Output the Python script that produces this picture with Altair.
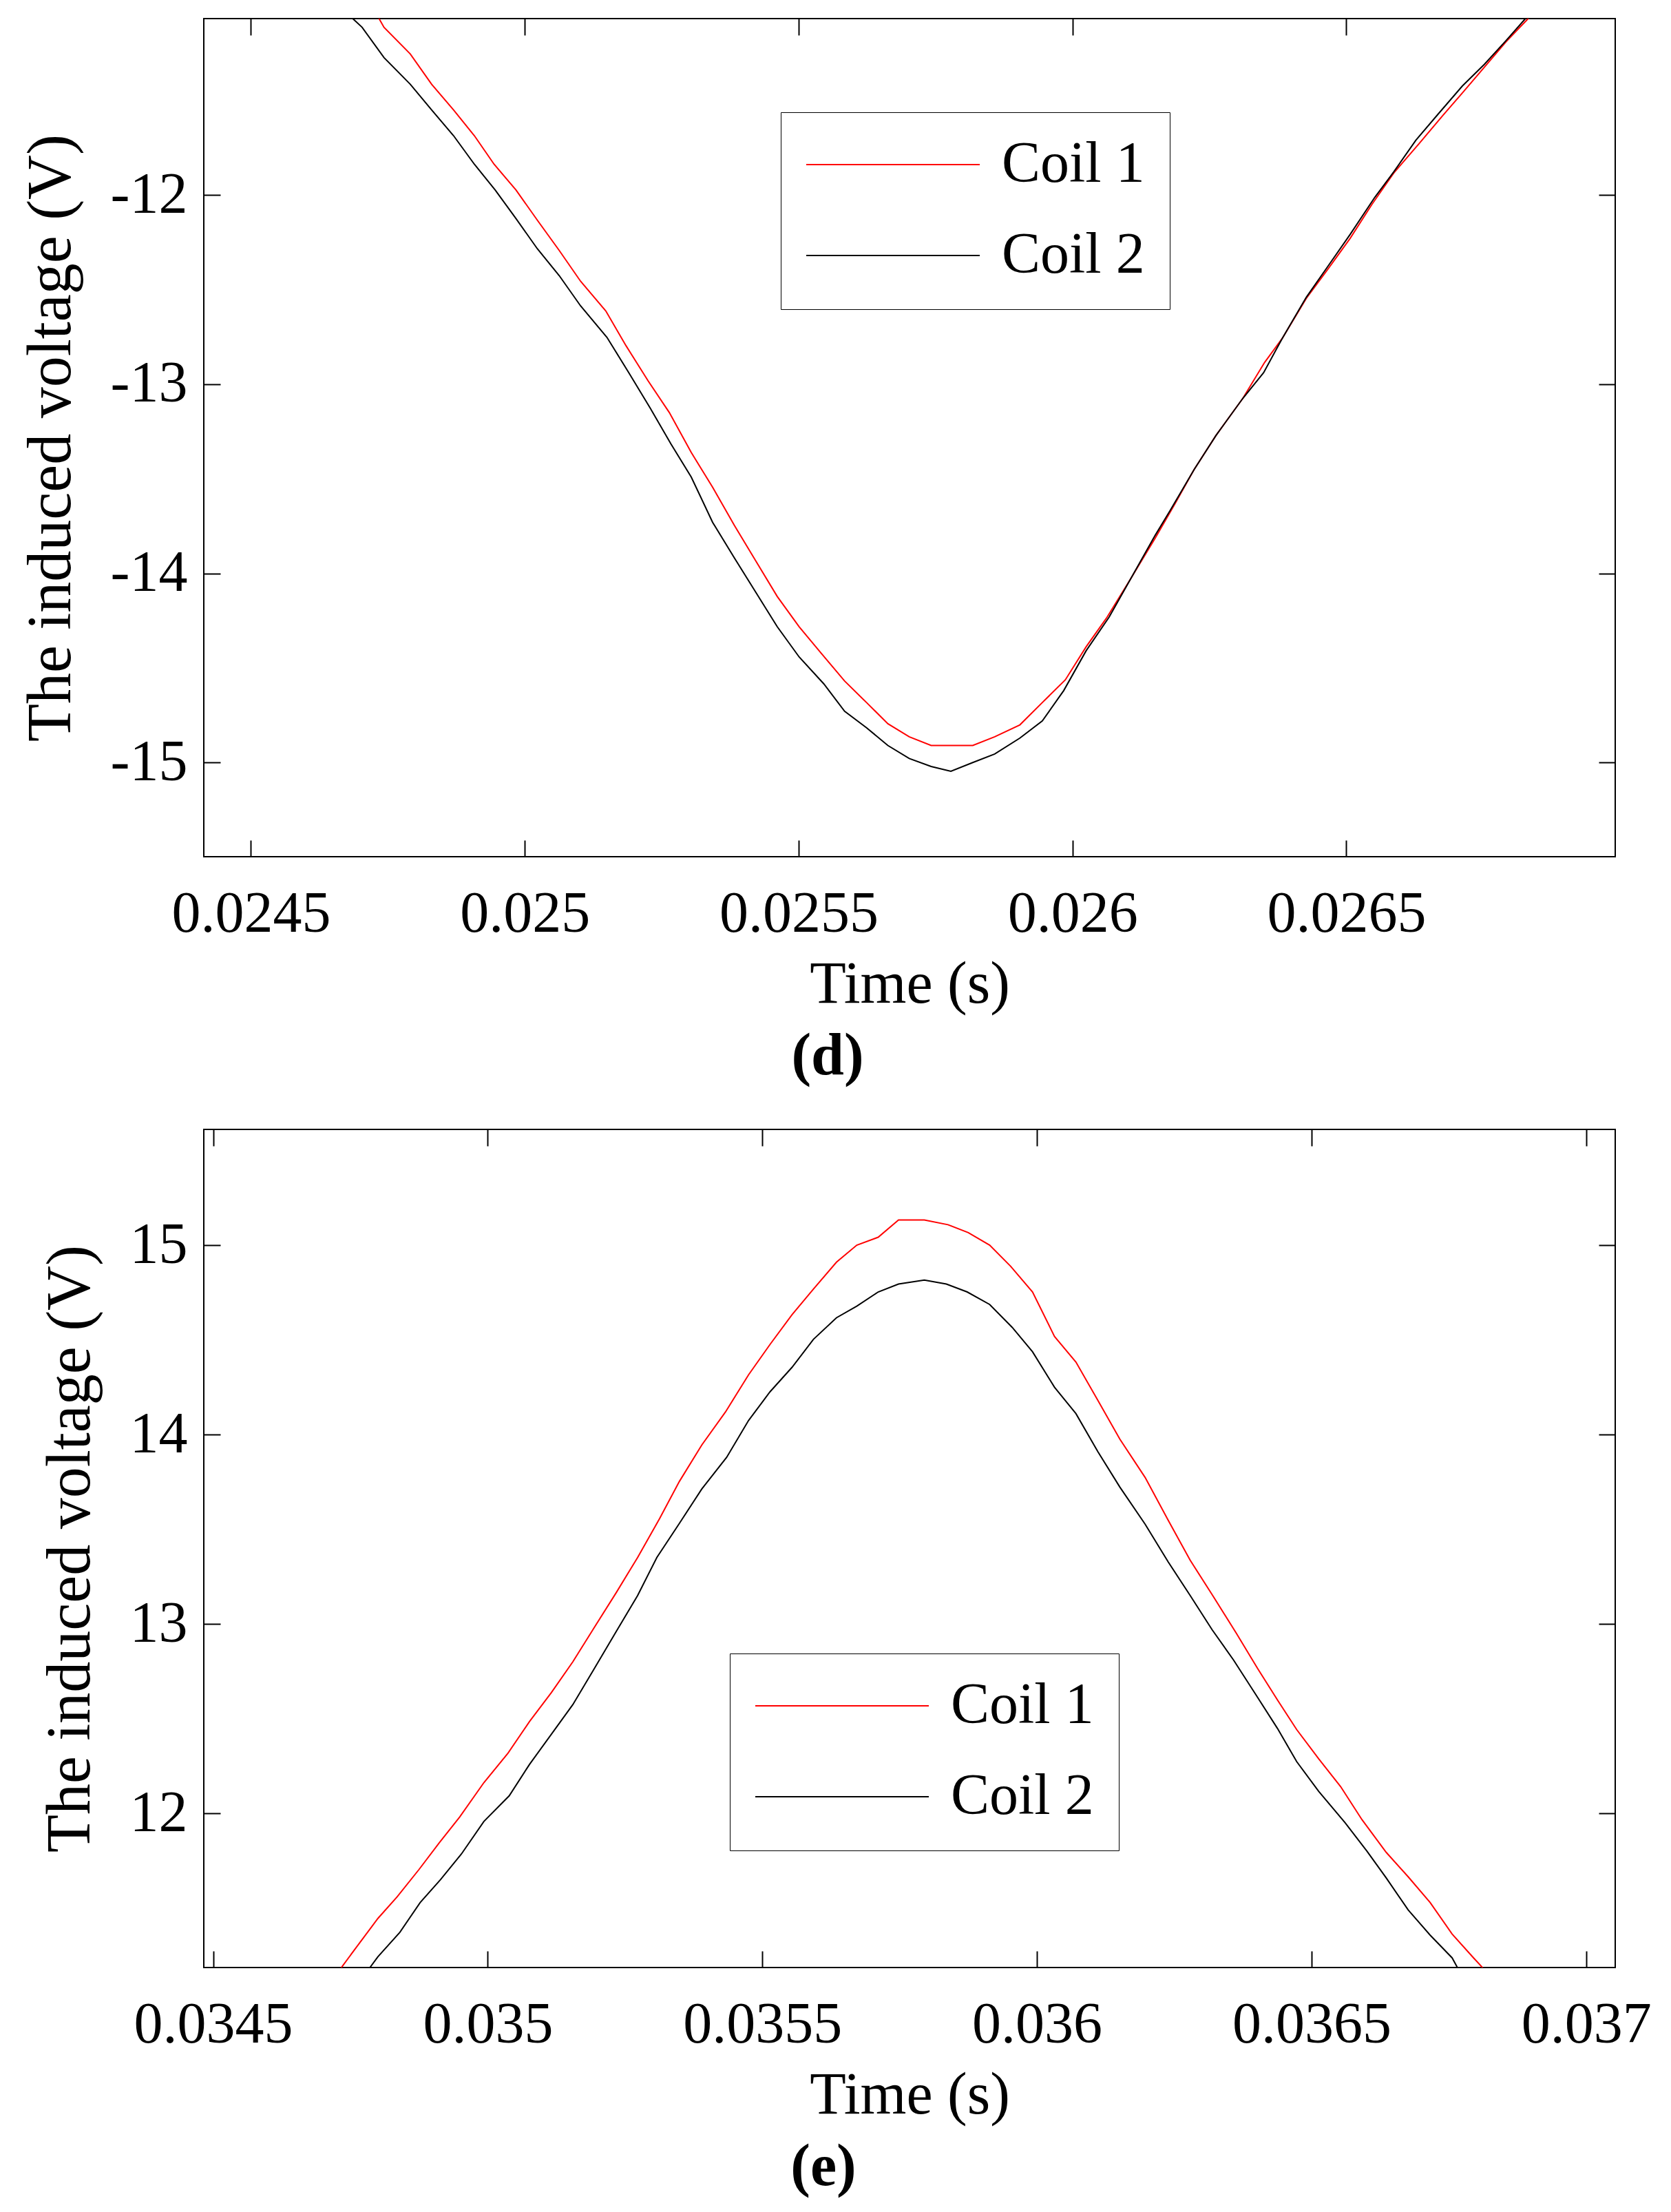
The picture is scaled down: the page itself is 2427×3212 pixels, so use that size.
import altair as alt
import pandas as pd

FONT = "Liberation Serif"

# ---------------- Panel (d) ----------------
d_t_coil1 = [0.024721, 0.024734, 0.024743, 0.024791, 0.024830, 0.024870, 0.024908, 0.024944,
             0.024984, 0.025023, 0.025063, 0.025102, 0.025148, 0.025185, 0.025225, 0.025264,
             0.025304, 0.025343, 0.025383, 0.025422, 0.025461, 0.025501, 0.025540, 0.025584,
             0.025624, 0.025663, 0.025702, 0.025742, 0.025818, 0.025858, 0.025904, 0.025945,
             0.025987, 0.026025, 0.026062, 0.026107, 0.026151, 0.026187, 0.026222, 0.026262,
             0.026311, 0.026351, 0.026383, 0.026427, 0.026467, 0.026507, 0.026547, 0.026587,
             0.026632, 0.026676, 0.026712, 0.026752, 0.026792, 0.026832, 0.026872]
d_v_coil1 = [-10.992, -11.067, -11.113, -11.254, -11.414, -11.550, -11.686, -11.837,
             -11.973, -12.133, -12.293, -12.456, -12.613, -12.797, -12.981, -13.150,
             -13.361, -13.545, -13.748, -13.935, -14.122, -14.282, -14.418, -14.569,
             -14.683, -14.795, -14.864, -14.910, -14.910, -14.864, -14.801, -14.683,
             -14.563, -14.388, -14.237, -14.025, -13.814, -13.633, -13.452, -13.271,
             -13.075, -12.884, -12.758, -12.546, -12.389, -12.229, -12.048, -11.882,
             -11.731, -11.580, -11.460, -11.324, -11.188, -11.067, -10.931]

d_t_coil2 = [0.024664, 0.024686, 0.024703, 0.024743, 0.024791, 0.024830, 0.024870, 0.024908,
             0.024946, 0.024984, 0.025023, 0.025063, 0.025102, 0.025150, 0.025190, 0.025229,
             0.025267, 0.025304, 0.025343, 0.025383, 0.025422, 0.025461, 0.025501, 0.025546,
             0.025584, 0.025624, 0.025663, 0.025702, 0.025742, 0.025778, 0.025818, 0.025858,
             0.025904, 0.025945, 0.025984, 0.026025, 0.026067, 0.026107, 0.026151, 0.026178,
             0.026222, 0.026262, 0.026311, 0.026349, 0.026383, 0.026427, 0.026467, 0.026507,
             0.026552, 0.026587, 0.026627, 0.026667, 0.026712, 0.026752, 0.026792, 0.026827,
             0.026867]
d_v_coil2 = [-10.977, -11.067, -11.113, -11.273, -11.414, -11.550, -11.686, -11.837,
             -11.973, -12.124, -12.284, -12.426, -12.586, -12.752, -12.939, -13.126,
             -13.316, -13.491, -13.730, -13.920, -14.101, -14.282, -14.442, -14.584,
             -14.729, -14.816, -14.910, -14.979, -15.021, -15.046, -15.000, -14.955,
             -14.871, -14.780, -14.620, -14.409, -14.231, -14.025, -13.799, -13.669,
             -13.452, -13.271, -13.075, -12.939, -12.758, -12.540, -12.374, -12.208,
             -12.012, -11.876, -11.710, -11.574, -11.423, -11.309, -11.182, -11.067,
             -10.931]

d_x_ticks = [0.0245, 0.025, 0.0255, 0.026, 0.0265]
d_y_ticks = [-15, -14, -13, -12]
d_x_domain = [0.024414, 0.026991]
d_y_domain = [-15.498, -11.067]

# ---------------- Panel (e) ----------------
e_t_coil1 = [0.034700, 0.034729, 0.034761, 0.034800, 0.034835, 0.034875, 0.034912, 0.034949,
             0.034993, 0.035037, 0.035076, 0.035116, 0.035155, 0.035194, 0.035234, 0.035273,
             0.035313, 0.035349, 0.035390, 0.035433, 0.035475, 0.035514, 0.035554, 0.035593,
             0.035635, 0.035672, 0.035711, 0.035748, 0.035795, 0.035838, 0.035875, 0.035914,
             0.035952, 0.035992, 0.036032, 0.036071, 0.036111, 0.036151, 0.036197, 0.036239,
             0.036279, 0.036320, 0.036363, 0.036402, 0.036438, 0.036473, 0.036513, 0.036553,
             0.036592, 0.036636, 0.036676, 0.036716, 0.036756, 0.036795, 0.036817, 0.036848]
e_v_coil1 = [11.048, 11.169, 11.295, 11.446, 11.560, 11.705, 11.846, 11.982,
             12.163, 12.319, 12.485, 12.639, 12.801, 12.982, 13.166, 13.352,
             13.557, 13.753, 13.946, 14.120, 14.316, 14.476, 14.633, 14.768,
             14.910, 15.000, 15.042, 15.133, 15.133, 15.108, 15.066, 15.000,
             14.889, 14.753, 14.518, 14.383, 14.181, 13.976, 13.774, 13.548,
             13.337, 13.151, 12.952, 12.765, 12.599, 12.443, 12.289, 12.142,
             11.967, 11.795, 11.666, 11.530, 11.364, 11.238, 11.169, 11.048]

e_t_coil2 = [0.034752, 0.034781, 0.034800, 0.034840, 0.034877, 0.034914, 0.034952, 0.034993,
             0.035039, 0.035076, 0.035116, 0.035155, 0.035194, 0.035234, 0.035273, 0.035308,
             0.035348, 0.035390, 0.035435, 0.035475, 0.035514, 0.035554, 0.035593, 0.035635,
             0.035672, 0.035711, 0.035748, 0.035795, 0.035835, 0.035873, 0.035914, 0.035955,
             0.035992, 0.036032, 0.036071, 0.036111, 0.036151, 0.036197, 0.036239, 0.036279,
             0.036319, 0.036358, 0.036398, 0.036438, 0.036473, 0.036513, 0.036561, 0.036601,
             0.036636, 0.036676, 0.036716, 0.036756, 0.036769, 0.036795]
e_v_coil2 = [11.048, 11.169, 11.244, 11.373, 11.530, 11.651, 11.786, 11.958,
             12.093, 12.259, 12.419, 12.575, 12.765, 12.961, 13.151, 13.352,
             13.527, 13.714, 13.880, 14.075, 14.226, 14.355, 14.503, 14.617,
             14.678, 14.753, 14.795, 14.816, 14.795, 14.753, 14.687, 14.566,
             14.437, 14.250, 14.111, 13.910, 13.723, 13.527, 13.328, 13.151,
             12.970, 12.810, 12.630, 12.449, 12.274, 12.117, 11.952, 11.801,
             11.660, 11.491, 11.358, 11.238, 11.169, 11.048]

e_x_ticks = [0.0345, 0.035, 0.0355, 0.036, 0.0365, 0.037]
e_y_ticks = [12, 13, 14, 15]
e_x_domain = [0.034483, 0.037053]
e_y_domain = [11.187, 15.611]

series_names = ["Coil 1", "Coil 2"]
series_colors = ["#ff0000", "#000000"]

TK = 24  # tick length (inward)


def make_df(t1, v1, t2, v2):
    a = pd.DataFrame({"t": t1, "v": v1, "coil": series_names[0]})
    b = pd.DataFrame({"t": t2, "v": v2, "coil": series_names[1]})
    return pd.concat([a, b], ignore_index=True)


def panel(df, xdom, ydom, xt, yt, caption, lx, ly, cap_dx):
    xs = alt.Scale(domain=xdom, nice=False, zero=False)
    ys = alt.Scale(domain=ydom, nice=False, zero=False)
    common_tick = dict(tickSize=TK, tickWidth=2, tickColor="black", domain=False, grid=False, offset=-TK)
    x_axis = alt.Axis(values=xt, orient="bottom", title="Time (s)", labelFont=FONT, labelFontSize=84,
                      labelColor="black", labelPadding=42, labelFlush=False, labelOverlap=False,
                      labelLimit=1000, labelExpr="toString(datum.value)", titleFont=FONT,
                      titleFontSize=86, titleFontWeight="normal", titleColor="black",
                      titlePadding=18, **common_tick)
    y_axis = alt.Axis(values=yt, orient="left", title="The induced voltage (V)", labelFont=FONT,
                      labelFontSize=84, labelColor="black", labelPadding=24, labelOverlap=False,
                      labelLimit=1000, labelExpr="toString(datum.value)", titleFont=FONT,
                      titleFontSize=90, titleFontWeight="normal", titleColor="black",
                      titlePadding=40, titleLimit=3000, **common_tick)
    legend = alt.Legend(title=None, orient="none", legendX=lx, legendY=ly, symbolType="stroke",
                        symbolSize=63504, symbolStrokeWidth=2, labelFont=FONT, labelFontSize=84,
                        labelColor="black", labelOffset=31, labelLimit=1000, clipHeight=80,
                        rowPadding=48, padding=36, strokeColor="black", fillColor="white")
    lines = alt.Chart(df).mark_line(strokeWidth=2, clip=True).encode(
        x=alt.X("t:Q", scale=xs, axis=x_axis),
        y=alt.Y("v:Q", scale=ys, axis=y_axis),
        color=alt.Color("coil:N", scale=alt.Scale(domain=series_names, range=series_colors), legend=legend),
    )
    ghost = alt.Chart(df).mark_line(opacity=0, clip=True).encode(
        x=alt.X("t:Q", scale=xs, title=None,
                axis=alt.Axis(values=xt, orient="top", labels=False, **common_tick)),
        y=alt.Y("v:Q", scale=ys, title=None,
                axis=alt.Axis(values=yt, orient="right", labels=False, **common_tick)),
        detail="coil:N",
    )
    return alt.layer(lines, ghost).resolve_axis(x="independent", y="independent").properties(
        width=2050, height=1217,
        title=alt.TitleParams(text=caption, orient="bottom", anchor="middle", frame="group",
                              dx=cap_dx, offset=20, font=FONT, fontSize=86, fontWeight="bold",
                              color="black"),
    )


top = panel(make_df(d_t_coil1, d_v_coil1, d_t_coil2, d_v_coil2), d_x_domain, d_y_domain,
            d_x_ticks, d_y_ticks, "(d)", 838, 136, -119)
bottom = panel(make_df(e_t_coil1, e_v_coil1, e_t_coil2, e_v_coil2), e_x_domain, e_y_domain,
               e_x_ticks, e_y_ticks, "(e)", 764, 761, -125)

chart = alt.vconcat(top, bottom, spacing=60).resolve_scale(color="independent").properties(
    padding={"top": 17, "left": 20, "right": 5, "bottom": 5},
    background="white",
).configure_view(stroke="black", strokeWidth=2)

chart.save("out.html", embed_options={"renderer": "svg", "actions": False})
